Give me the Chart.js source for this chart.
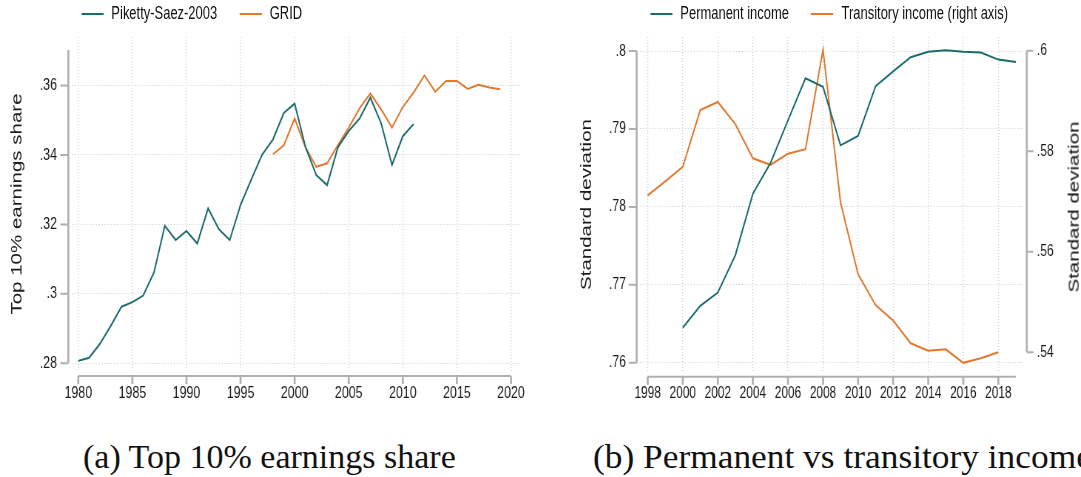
<!DOCTYPE html>
<html>
<head>
<meta charset="utf-8">
<script src="https://cdn.jsdelivr.net/npm/chart.js@4.4.0/dist/chart.umd.min.js"></script>
<style>
  html, body { margin: 0; padding: 0; background: #fff; }
  body { width: 1081px; height: 477px; position: relative; overflow: hidden; font-family: "Liberation Sans", Arial, sans-serif; color: #111; }
  /* the source figure is squeezed horizontally, so each panel is drawn wide and scaled */
  .panel { position: absolute; top: 0; height: 410px; transform: scaleX(0.74); transform-origin: 0 0; }
  #panelA { left: 0; width: 730px; }
  #panelB { left: 540px; width: 731px; }
  .legend { position: absolute; top: 0; height: 27px; display: flex; align-items: center; font-size: 17.5px; white-space: nowrap; }
  .legend .item { display: flex; align-items: center; margin-right: 30px; }
  .legend .swatch { width: 30px; height: 2px; margin-right: 11px; }
  .rtitle { position: absolute; left: 721px; top: 206.5px; transform: translate(-50%, -50%) rotate(-90deg); font-size: 20.5px; white-space: nowrap; }
  .caption { position: absolute; top: 439.5px; font-family: "Liberation Serif", serif; font-size: 34px; line-height: 1; white-space: nowrap; transform-origin: 0 0; }
</style>
</head>
<body>
<div id="panelA" class="panel">
  <canvas id="chartA"></canvas>
  <div id="legendA" class="legend" style="left:109.5px"></div>
</div>
<div id="panelB" class="panel">
  <canvas id="chartB"></canvas>
  <div id="legendB" class="legend" style="left:148.6px"></div>
  <div class="rtitle">Standard deviation</div>
</div>
<div class="caption" style="left:83px">(a) Top 10% earnings share</div>
<div class="caption" style="left:592.7px; transform: scaleX(1.04)">(b) Permanent vs transitory income</div>

<script>
// panel (a): top 10% earnings share
const psYears = [1980, 1981, 1982, 1983, 1984, 1985, 1986, 1987, 1988, 1989, 1990, 1991, 1992, 1993, 1994, 1995,
  1996, 1997, 1998, 1999, 2000, 2001, 2002, 2003, 2004, 2005, 2006, 2007, 2008, 2009, 2010, 2011];
const psShare = [0.2807, 0.2816, 0.2856, 0.2908, 0.2963, 0.2976, 0.2995, 0.3062, 0.3196, 0.3155, 0.3181, 0.3145,
  0.3246, 0.3186, 0.3155, 0.3256, 0.3330, 0.3401, 0.3445, 0.3521, 0.3548, 0.3423, 0.3342, 0.3313, 0.3422, 0.3469,
  0.3505, 0.3565, 0.3491, 0.3371, 0.3454, 0.3489];
const gridYears = [1998, 1999, 2000, 2001, 2002, 2003, 2004, 2005, 2006, 2007, 2008, 2009, 2010, 2011, 2012, 2013,
  2014, 2015, 2016, 2017, 2018, 2019];
const gridShare = [0.3402, 0.3428, 0.3505, 0.3422, 0.3366, 0.3376, 0.3428, 0.3479, 0.3534, 0.3577, 0.3531, 0.3479,
  0.3538, 0.3580, 0.3629, 0.3582, 0.3613, 0.3613, 0.3590, 0.3602, 0.3594, 0.3589];
const aXTicks = [1980, 1985, 1990, 1995, 2000, 2005, 2010, 2015, 2020];
const aXLabels = ["1980", "1985", "1990", "1995", "2000", "2005", "2010", "2015", "2020"];
const aYTicks = [0.28, 0.30, 0.32, 0.34, 0.36];
const aYLabels = [".28", ".3", ".32", ".34", ".36"];

// panel (b): permanent vs transitory income
const permYears = [2000, 2001, 2002, 2003, 2004, 2005, 2006, 2007, 2008, 2009, 2010, 2011, 2012, 2013, 2014, 2015,
  2016, 2017, 2018, 2019];
const permSd = [0.7645, 0.7673, 0.7690, 0.7738, 0.7817, 0.7856, 0.7911, 0.7965, 0.7954, 0.7879, 0.7891, 0.7955,
  0.7974, 0.7992, 0.7999, 0.8001, 0.7999, 0.7998, 0.7989, 0.7986];
const transYears = [1998, 1999, 2000, 2001, 2002, 2003, 2004, 2005, 2006, 2007, 2008, 2009, 2010, 2011, 2012, 2013,
  2014, 2015, 2016, 2017, 2018];
const transSd = [0.5712, 0.5740, 0.5769, 0.5882, 0.5898, 0.5854, 0.5786, 0.5773, 0.5795, 0.5804, 0.6002, 0.5698,
  0.5555, 0.5494, 0.5463, 0.5418, 0.5403, 0.5406, 0.5379, 0.5388, 0.5400];
const bXTicks = [1998, 2000, 2002, 2004, 2006, 2008, 2010, 2012, 2014, 2016, 2018];
const bXLabels = ["1998", "2000", "2002", "2004", "2006", "2008", "2010", "2012", "2014", "2016", "2018"];
const bYTicks = [0.76, 0.77, 0.78, 0.79, 0.80];
const bYLabels = [".76", ".77", ".78", ".79", ".8"];
const bY2Ticks = [0.54, 0.56, 0.58, 0.60];
const bY2Labels = [".54", ".56", ".58", ".6"];

const TEAL = "#1b6b6d";
const ORANGE = "#e0782f";
const GRID = "#cfcfcf";
const AXIS = "#b0b0b0";
const TEXT = "#1a1a1a";

const points = (xs, ys) => ys.map((y, i) => ({ x: xs[i], y }));

// Stata style axis lines, set off from the plot region, with outward ticks
const stataAxes = {
  id: "stataAxes",
  afterDraw(chart, args, opts) {
    const { ctx, chartArea } = chart;
    ctx.save();
    ctx.strokeStyle = opts.color;
    ctx.lineCap = "butt";
    (opts.axes || []).forEach(a => {
      const s = chart.scales[a.id];
      const p0 = s.getPixelForValue(a.from);
      const p1 = s.getPixelForValue(a.to);
      const tickPx = s.ticks.map(t => s.getPixelForValue(t.value));
      if (s.isHorizontal()) {
        const y = chartArea.bottom + a.gap;
        ctx.lineWidth = 2;
        ctx.beginPath(); ctx.moveTo(p0, y); ctx.lineTo(p1, y); ctx.stroke();
        ctx.lineWidth = 2.7;
        ctx.beginPath();
        tickPx.forEach(x => { ctx.moveTo(x, y); ctx.lineTo(x, y + a.tick); });
        ctx.stroke();
      } else {
        const x = a.side === "left" ? chartArea.left - a.gap : chartArea.right + a.gap;
        const dir = a.side === "left" ? -1 : 1;
        ctx.lineWidth = 2.7;
        ctx.beginPath(); ctx.moveTo(x, p0); ctx.lineTo(x, p1); ctx.stroke();
        ctx.lineWidth = 2;
        ctx.beginPath();
        tickPx.forEach(y => { ctx.moveTo(x, y); ctx.lineTo(x + dir * a.tick, y); });
        ctx.stroke();
      }
    });
    ctx.restore();
  }
};

const fontFamily = "'Liberation Sans', Arial, sans-serif";
const titleFont = { family: fontFamily, size: 20.5 };

function xScale(min, max, ticks, labels, height, size) {
  return {
    type: "linear", min, max,
    afterBuildTicks: s => { s.ticks = ticks.map(v => ({ value: v })); },
    afterFit: s => { s.height = height; },
    ticks: { font: { family: fontFamily, size }, color: TEXT, padding: 12.4, maxRotation: 0, autoSkip: false, callback: (v, i) => labels[i] },
    grid: { color: GRID, lineWidth: 1.35, drawTicks: false },
    border: { display: false, dash: [1, 2] }
  };
}

function yScale(min, max, ticks, labels, width, pad, position, size) {
  return {
    type: "linear", min, max, position,
    afterBuildTicks: s => { s.ticks = ticks.map(v => ({ value: v })); },
    afterFit: s => { s.width = width; },
    ticks: { font: { family: fontFamily, size }, color: TEXT, padding: pad, autoSkip: false, callback: (v, i) => labels[i] },
    grid: { color: GRID, lineWidth: 1, drawTicks: false },
    border: { display: false, dash: [1.35, 2.7] }
  };
}

function buildLegend(chart, el) {
  chart.data.datasets.forEach(ds => {
    const item = document.createElement("div");
    item.className = "item";
    const sw = document.createElement("span");
    sw.className = "swatch";
    sw.style.background = ds.borderColor;
    const tx = document.createElement("span");
    tx.textContent = ds.label;
    item.appendChild(sw);
    item.appendChild(tx);
    el.appendChild(item);
  });
}

const lineStyle = { borderWidth: 2, pointRadius: 0, tension: 0, fill: false };

const chartA = new Chart(document.getElementById("chartA"), {
  type: "line",
  data: {
    datasets: [
      { label: "Piketty-Saez-2003", data: points(psYears, psShare), borderColor: TEAL, ...lineStyle },
      { label: "GRID", data: points(gridYears, gridShare), borderColor: ORANGE, ...lineStyle }
    ]
  },
  options: {
    responsive: true,
    maintainAspectRatio: false,
    animation: false,
    layout: { padding: { top: 37, right: 26, left: 0, bottom: 0 } },
    plugins: {
      legend: { display: false },
      tooltip: { enabled: false },
      stataAxes: {
        color: AXIS,
        axes: [
          { id: "x", from: 1980, to: 2020, gap: 5, tick: 8 },
          { id: "y", side: "left", from: 0.28, to: 0.3702, gap: 5, tick: 10.8 }
        ]
      }
    },
    scales: {
      x: xScale(1979.418, 2020.924, aXTicks, aXLabels, 39, 16.8),
      y: {
        ...yScale(0.27778, 0.37397, aYTicks, aYLabels, 97.3, 20.3, "left", 16.8),
        title: { display: true, text: "Top 10% earnings share", font: titleFont, color: TEXT, padding: { top: 11.3, bottom: 0 } }
      }
    }
  },
  plugins: [stataAxes]
});
buildLegend(chartA, document.getElementById("legendA"));

const chartB = new Chart(document.getElementById("chartB"), {
  type: "line",
  data: {
    datasets: [
      { label: "Permanent income", data: points(permYears, permSd), borderColor: TEAL, yAxisID: "y", ...lineStyle },
      { label: "Transitory income (right axis)", data: points(transYears, transSd), borderColor: ORANGE, yAxisID: "y2", ...lineStyle }
    ]
  },
  options: {
    responsive: true,
    maintainAspectRatio: false,
    animation: false,
    layout: { padding: { top: 37, right: 0, left: 0, bottom: 0 } },
    plugins: {
      legend: { display: false },
      tooltip: { enabled: false },
      stataAxes: {
        color: AXIS,
        axes: [
          { id: "x", from: 1998, to: 2019, gap: 4.7, tick: 8 },
          { id: "y", side: "left", from: 0.76, to: 0.80, gap: 4.5, tick: 10.8 },
          { id: "y2", side: "right", from: 0.54, to: 0.60, gap: 6.4, tick: 9 }
        ]
      }
    },
    scales: {
      x: xScale(1997.561, 2019.352, bXTicks, bXLabels, 38, 16),
      y: {
        ...yScale(0.75881, 0.80180, bYTicks, bYLabels, 135.1, 19, "left", 16.5),
        title: { display: true, text: "Standard deviation", font: titleFont, color: TEXT, padding: { top: 50.8, bottom: 0 } }
      },
      y2: {
        ...yScale(0.53608, 0.60273, bY2Ticks, bY2Labels, 79.6, 19.9, "right", 16.5),
        grid: { drawOnChartArea: false, drawTicks: false }
      }
    }
  },
  plugins: [stataAxes]
});
buildLegend(chartB, document.getElementById("legendB"));
</script>
</body>
</html>
